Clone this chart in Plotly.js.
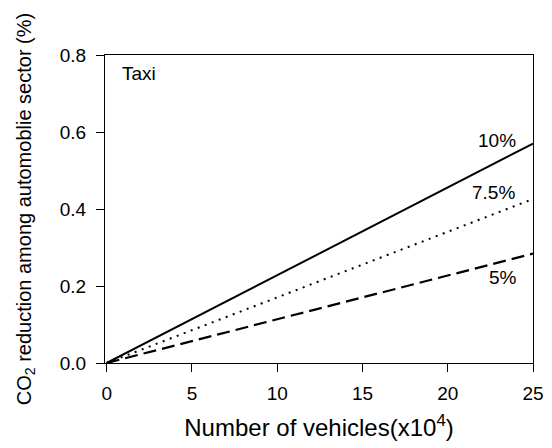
<!DOCTYPE html>
<html>
<head>
<meta charset="utf-8">
<script src="https://cdn.plot.ly/plotly-3.0.1.min.js"></script>
<style>html,body{margin:0;padding:0;background:#fff;}#chart{width:552px;height:448px;}</style>
</head>
<body>
<div id="chart"></div>
<script>
// Number of vehicles (x10^4)
const vehicles = [0, 5, 10, 15, 20, 25];
// CO2 reduction (%) for each scenario
const rate10 = [0, 0.114, 0.228, 0.342, 0.456, 0.570];
const rate75 = [0, 0.085, 0.170, 0.255, 0.340, 0.426];
const rate5  = [0, 0.057, 0.114, 0.171, 0.228, 0.284];
const seriesLabels = ['10%', '7.5%', '5%'];
const xTicks = [0, 5, 10, 15, 20, 25];
const yTicks = [0, 0.2, 0.4, 0.6, 0.8];
const yTickText = ['0.0', '0.2', '0.4', '0.6', '0.8'];
const panelLabel = 'Taxi';

const fam = 'Liberation Sans, Arial, sans-serif';
const f = (s) => ({family: fam, size: s, color: '#000'});

const traces = [
  {x: vehicles, y: rate10, mode: 'lines', line: {color: '#000', width: 2, dash: 'solid'}, name: seriesLabels[0]},
  {x: vehicles, y: rate75, mode: 'lines', line: {color: '#000', width: 2, dash: '2px,5.5px'}, name: seriesLabels[1]},
  {x: vehicles, y: rate5,  mode: 'lines', line: {color: '#000', width: 2.2, dash: '13px,6px'}, name: seriesLabels[2]}
];

const layout = {
  width: 552, height: 448,
  margin: {l: 105, r: 19, t: 55, b: 85},
  showlegend: false,
  paper_bgcolor: '#fff', plot_bgcolor: '#fff',
  font: f(19),
  xaxis: {
    range: [-0.1, 25], tickvals: xTicks,
    ticks: 'outside', ticklen: 8, tickwidth: 1, tickcolor: '#000',
    showline: true, linecolor: '#000', linewidth: 1, mirror: true,
    showgrid: false, zeroline: false, automargin: false,
    tickfont: f(19), ticklabelstandoff: 5,
    title: {text: 'Number of vehicles(x10<sup>4</sup>)', font: f(24), standoff: 16}
  },
  yaxis: {
    range: [0, 0.8], tickvals: yTicks, ticktext: yTickText,
    ticks: 'outside', ticklen: 8, tickwidth: 1, tickcolor: '#000',
    showline: true, linecolor: '#000', linewidth: 1, mirror: true,
    showgrid: false, zeroline: false, automargin: false,
    tickfont: f(19), ticklabelstandoff: 6,
    title: {text: 'CO<sub>2</sub> reduction among automoblie sector (%)', font: f(20), standoff: 22}
  },
  annotations: [
    {x: 0.035, y: 0.94, xref: 'paper', yref: 'paper', xanchor: 'left', yanchor: 'middle', text: panelLabel, showarrow: false, font: f(19)},
    {x: 22.9, y: 0.579, xref: 'x', yref: 'y', text: seriesLabels[0], showarrow: false, font: f(19)},
    {x: 22.7, y: 0.444, xref: 'x', yref: 'y', text: seriesLabels[1], showarrow: false, font: f(19)},
    {x: 23.25, y: 0.223, xref: 'x', yref: 'y', text: seriesLabels[2], showarrow: false, font: f(19)}
  ]
};

Plotly.newPlot('chart', traces, layout, {displayModeBar: false, staticPlot: true});
</script>
</body>
</html>
